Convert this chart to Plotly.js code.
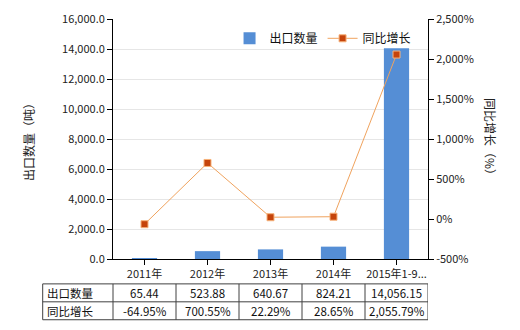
<!DOCTYPE html>
<html><head><meta charset="utf-8">
<script src="https://cdn.plot.ly/plotly-3.0.1.min.js"></script>
<style>body{margin:0;background:#fff}#c{width:520px;height:330px}</style>
</head><body><div id="c"></div>
<script>
const categories = ["2011年","2012年","2013年","2014年","2015年1-9..."];
const exportQty = [65.44, 523.88, 640.67, 824.21, 14056.15];
const yoyGrowth = [-64.95, 700.55, 22.29, 28.65, 2055.79];
const seriesNames = ["出口数量","同比增长"];
const leftTicks = [0,2000,4000,6000,8000,10000,12000,14000,16000];
const rightTicks = [-500,0,500,1000,1500,2000,2500];

const FONT = '"Noto Sans CJK SC","Microsoft YaHei",sans-serif';
const xs = categories.map((c,i)=>i);
const fmtN = v => v.toLocaleString('en-US',{minimumFractionDigits:2,maximumFractionDigits:2});
const fmtInt = v => v.toLocaleString('en-US');

const traces = [
  {type:'bar', x:xs, y:exportQty, name:seriesNames[0], width:0.4,
   marker:{color:'#558ed5'}, yaxis:'y'},
  {type:'scatter', mode:'lines+markers', x:xs, y:yoyGrowth, name:seriesNames[1], yaxis:'y2',
   line:{color:'#f0a35e', width:1},
   marker:{symbol:'square', size:7, color:'#c5440b', line:{color:'#f7b27a', width:1}}}
];

// table geometry (paper coords)
const L = -0.2232, R = 1.0, Y0 = -0.1037, Y1 = -0.1784, Y2 = -0.2531;
const shapes = [];
const lineStyle = {color:'#404040', width:1};
[Y0,Y1,Y2].forEach(y=>shapes.push({type:'line', xref:'paper', yref:'paper', x0:L, x1:R, y0:y, y1:y, line:lineStyle}));
shapes.push({type:'line', xref:'paper', yref:'paper', x0:L, x1:L, y0:Y0, y1:Y2, line:lineStyle});
shapes.push({type:'line', xref:'paper', yref:'paper', x0:0, x1:0, y0:Y0, y1:Y2, line:lineStyle});
xs.forEach(i=>shapes.push({type:'line', xref:'x', yref:'paper', x0:i+0.5, x1:i+0.5, y0:Y0, y1:Y2, line:lineStyle}));

const TF = {size:11.5,color:'#111',family:FONT};
const ann = [];
const rowY = [(Y0+Y1)/2, (Y1+Y2)/2];
ann.push({xref:'paper', yref:'paper', x:L+0.006, y:rowY[0], xanchor:'left', yanchor:'middle', text:seriesNames[0], showarrow:false, font:TF});
ann.push({xref:'paper', yref:'paper', x:L+0.006, y:rowY[1], xanchor:'left', yanchor:'middle', text:seriesNames[1], showarrow:false, font:TF});
xs.forEach(i=>{
  ann.push({xref:'x', yref:'paper', x:i, y:rowY[0], xanchor:'center', yanchor:'middle', text:fmtN(exportQty[i]), showarrow:false, font:TF});
  ann.push({xref:'x', yref:'paper', x:i, y:rowY[1], xanchor:'center', yanchor:'middle', text:fmtN(yoyGrowth[i])+'%', showarrow:false, font:TF});
});
ann.push({xref:'paper', yref:'paper', x:1.2, y:0.5, textangle:90, text:'同比增长（%）', showarrow:false, xanchor:'center', yanchor:'middle', font:{size:12,color:'#222',family:FONT}});
ann.push({xref:'paper', yref:'paper', x:-0.27, y:0.5, textangle:-90, text:'出口数量（吨）', showarrow:false, xanchor:'center', yanchor:'middle', font:{size:12,color:'#222',family:FONT}});

const layout = {
  width:520, height:330,
  margin:{l:113, r:92, t:19, b:71},
  paper_bgcolor:'#fff', plot_bgcolor:'#fff',
  font:{family:FONT, size:11, color:'#222'},
  showlegend:true,
  legend:{orientation:'h', x:0.37, y:0.98, xanchor:'left', yanchor:'top', font:{size:12,family:FONT,color:'#111'}, bgcolor:'rgba(0,0,0,0)', traceorder:'normal'},
  xaxis:{tickvals:xs, ticktext:categories, range:[-0.5,4.5], showline:true, linecolor:'#000', linewidth:1,
         ticks:'outside', ticklen:5, tickcolor:'#000', showgrid:false, zeroline:false, tickfont:{size:11}},
  yaxis:{range:[0,16000], tickvals:leftTicks, tickformat:',.1f', showline:true, linecolor:'#000', linewidth:1,
         ticks:'outside', ticklen:5, tickcolor:'#000', gridcolor:'#e6e6e6', zeroline:false},
  yaxis2:{range:[-500,2500], tickvals:rightTicks, ticktext:rightTicks.map(v=>fmtInt(v)+'%'), overlaying:'y', side:'right',
          showline:true, linecolor:'#000', linewidth:1, ticks:'outside', ticklen:5, tickcolor:'#000',
          showgrid:false, zeroline:false},
  shapes:shapes, annotations:ann
};
Plotly.newPlot('c', traces, layout, {displayModeBar:false, staticPlot:true});
</script></body></html>
